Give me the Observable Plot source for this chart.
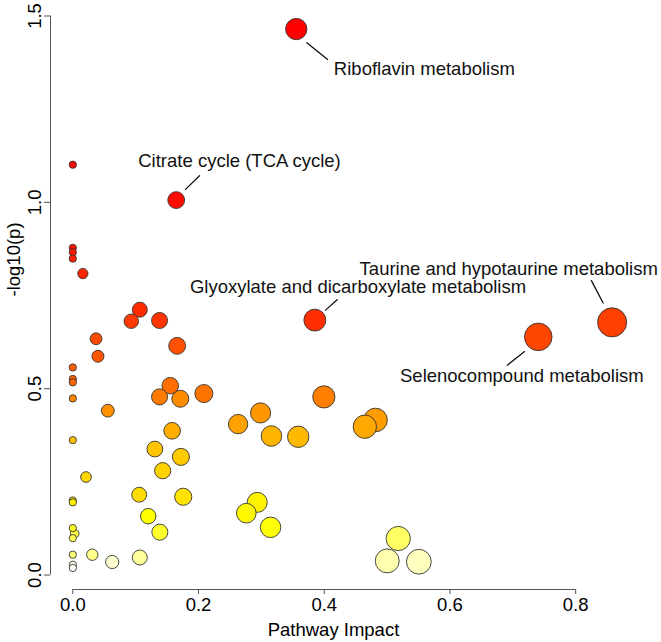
<!DOCTYPE html>
<html><head><meta charset="utf-8">
<script src="https://cdn.jsdelivr.net/npm/d3@7"></script>
<script src="https://cdn.jsdelivr.net/npm/@observablehq/plot@0.6"></script>
<style>body{margin:0;background:#fff;}</style>
</head><body><div id="chart"></div>
<script>
// ---- data ----
const impact = [0.3555, 0.1645, 0, 0, 0, 0, 0.016, 0.385, 0.858, 0.7405,
  0.1066, 0.093, 0.138, 0.037, 0.040, 0.166, 0, 0, 0, 0,
  0.0557, 0.155, 0.138, 0.171, 0.2085, 0.3994, 0.2987, 0.263, 0.316, 0.3586,
  0.4816, 0.4646, 0.158, 0, 0.1305, 0.172, 0.143, 0.021, 0.1056, 0.1757,
  0, 0, 0.2934, 0.276, 0.3146, 0.120, 0.1385, 0, 0.003, 0,
  0, 0.031, 0.0627, 0.1066, 0.5177, 0.5002, 0.5505, 0, 0];
const negLog10P = [1.465, 1.006, 1.101, 0.878, 0.866, 0.849, 0.809, 0.684, 0.678, 0.639,
  0.712, 0.681, 0.683, 0.634, 0.587, 0.615, 0.557, 0.526, 0.517, 0.474,
  0.441, 0.508, 0.478, 0.473, 0.487, 0.478, 0.435, 0.405, 0.373, 0.371,
  0.416, 0.398, 0.387, 0.362, 0.338, 0.317, 0.280, 0.263, 0.2155, 0.210,
  0.200, 0.195, 0.195, 0.166, 0.128, 0.158, 0.115, 0.126, 0.111, 0.099,
  0.0545, 0.0545, 0.035, 0.047, 0.098, 0.038, 0.0357, 0.0276, 0.019];
const labelNames = ["Riboflavin metabolism", "Citrate cycle (TCA cycle)",
  "Glyoxylate and dicarboxylate metabolism", "Taurine and hypotaurine metabolism",
  "Selenocompound metabolism"];
const labelIdx = [0, 1, 7, 8, 9];
const xTicks = [0, 0.2, 0.4, 0.6, 0.8];
const yTicks = [0, 0.5, 1.0, 1.5];
const xLabel = "Pathway Impact";
const yLabel = "-log10(p)";

// ---- layout / style ----
const W = 661, H = 642, mL = 50, mR = 28, mT = 7, mB = 53;
const xDomain = [-0.0355, 0.892], yDomain = [-0.0388, 1.5228];
const FONT = "'Liberation Sans', Arial, Helvetica, sans-serif";
const FS = 18.5;
// label placement (pixel offsets from the circle centre) and leader segments
const labelLayout = [
  {dx: 37.6, dy: 39.7, anchor: "start", lx: 10.6, ly: 13.7, rot: 128.9, len: 26.6},
  {dx: 63.3, dy: -39.3, anchor: "middle", lx: 9.3, ly: -10.7, rot: 45.8, len: 19.5},
  {dx: 43.2, dy: -32.6, anchor: "middle", lx: 10.7, ly: -10, rot: 48.6, len: 15.6},
  {dx: -103.4, dy: -53.4, anchor: "middle", lx: -9, ly: -19.4, rot: -27.7, len: 25.2},
  {dx: -16.4, dy: 39, anchor: "middle", lx: -13.7, ly: 14.7, rot: -128.2, len: 22}
];

// R heat.colors(n)
function heatColors(n) {
  const j = Math.floor(n / 4), i = n - j, out = [];
  const hex = (r, g, b) => "#" + [r, g, b].map(v => Math.round(v * 255).toString(16).padStart(2, "0")).join("");
  for (let k = 0; k < i; k++) {
    const h = i > 1 ? (k * (1 / 6)) / (i - 1) : 0;
    out.push(hex(1, h * 6, 0));
  }
  for (let k = 0; k < j; k++) {
    const s = j > 1 ? (1 - 1 / (2 * j)) + k * ((1 / (2 * j)) - (1 - 1 / (2 * j))) / (j - 1) : 1 / (2 * j);
    out.push(hex(1, 1, 1 - s));
  }
  return out;
}

const n = impact.length;
const order = d3.range(n).sort((a, b) => negLog10P[b] - negLog10P[a]);
const heat = heatColors(n);
const fillOf = new Array(n);
order.forEach((idx, k) => fillOf[idx] = heat[k]);
const sq = impact.map(Math.sqrt);
const minS = d3.min(sq), maxS = d3.max(sq);
const maxR = (maxS - minS) / 40, minR = (maxS - minS) / 160;
const pxPerX = (W - mL - mR) / (xDomain[1] - xDomain[0]);
const points = order.map(i => ({
  x: impact[i], y: negLog10P[i], fill: fillOf[i],
  r: (minR + (maxR - minR) * (sq[i] - minS) / (maxS - minS)) * pxPerX
}));
const labels = labelIdx.map((i, k) => ({x: impact[i], y: negLog10P[i], name: labelNames[k], ...labelLayout[k]}));

const lineShape = {draw(ctx, l) { ctx.moveTo(0, 0); ctx.lineTo(0, -l); }};

const marks = [
  Plot.ruleY([yDomain[0]], {x1: xTicks[0], x2: xTicks[xTicks.length - 1], stroke: "#555", strokeWidth: 1}),
  Plot.ruleX([xDomain[0]], {y1: yTicks[0], y2: yTicks[yTicks.length - 1], stroke: "#555", strokeWidth: 1}),
  Plot.axisX({ticks: xTicks, tickSize: 5, tickPadding: 3, tickFormat: d3.format(".1f"), label: null, fontSize: FS, stroke: "#555", color: "#000"}),
  Plot.axisY({ticks: yTicks, tickSize: 6, tickPadding: 4, tickRotate: -90, tickFormat: d3.format(".1f"), label: null, fontSize: FS, stroke: "#555", color: "#000"}),
  Plot.text([xLabel], {frameAnchor: "bottom", dx: -8.5, dy: 41, fontSize: FS, fill: "#000", lineAnchor: "middle"}),
  Plot.text([yLabel], {frameAnchor: "left", rotate: -90, dx: -36, dy: -2, fontSize: FS, fill: "#000", lineAnchor: "middle"}),
  Plot.dot(points, {x: "x", y: "y", r: "r", fill: "fill", stroke: "#333", strokeWidth: 0.9}),
  ...labels.map(d => Plot.vector([d], {x: "x", y: "y", dx: d.lx, dy: d.ly, rotate: d.rot, length: d.len, anchor: "start", shape: lineShape, stroke: "#111", strokeWidth: 1.3})),
  ...labels.map(d => Plot.text([d], {x: "x", y: "y", text: "name", dx: d.dx, dy: d.dy, textAnchor: d.anchor, lineAnchor: "middle", fontSize: FS, fill: "#111"}))
];

const chart = Plot.plot({
  width: W, height: H,
  marginLeft: mL, marginRight: mR, marginTop: mT, marginBottom: mB,
  x: {domain: xDomain},
  y: {domain: yDomain},
  r: {type: "identity"},
  style: {fontFamily: FONT, fontSize: FS + "px", background: "#fff", color: "#000", overflow: "visible"},
  marks
});
document.getElementById("chart").appendChild(chart);
</script>
</body></html>
